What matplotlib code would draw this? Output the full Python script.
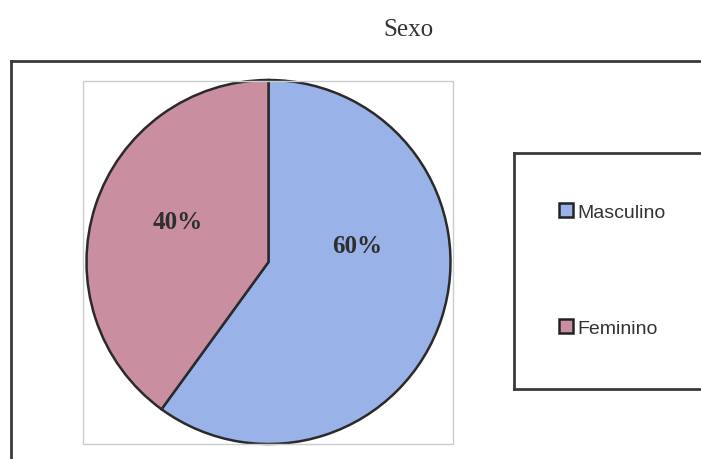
import matplotlib
matplotlib.use("Agg")
from matplotlib import pyplot as plt
from matplotlib.lines import Line2D
from matplotlib.patches import Rectangle

# sex distribution
labels = ["Masculino", "Feminino"]
shares = [60, 40]
colors = ["#99B2E8", "#C98FA0"]
# where the percentage text sits inside the pie (x, y in pie radii)
pct_pos = [(0.49, 0.09), (-0.50, 0.22)]

W, H = 701, 460
fig = plt.figure(figsize=(W / 100, H / 100), dpi=100)


def fx(px):
    return px / W


def fy(py):
    return 1 - py / H


fig.text(fx(408), fy(30), "Sexo", ha="center", va="center",
         family="Liberation Serif", fontsize=18, color="#333333")

# outer chart frame (runs off the right and bottom)
fig.add_artist(Line2D([fx(11), 1.0], [fy(62), fy(62)], color="#3a3a3a", lw=2))
fig.add_artist(Line2D([fx(11), fx(11)], [fy(62), 0.0], color="#3a3a3a", lw=2))

# plot area border
fig.add_artist(Rectangle((fx(83), fy(445)), fx(453) - fx(83), fy(82) - fy(445),
                         transform=fig.transFigure, fill=False,
                         edgecolor="#c8cccc", lw=1))

ax = fig.add_axes([fx(85), fy(445), fx(452) - fx(85), fy(81) - fy(445)])
wedges, texts, autotexts = ax.pie(
    shares, colors=colors, startangle=90, counterclock=False,
    autopct="%1.0f%%", radius=1.0,
    wedgeprops=dict(edgecolor="#2a2a2a", linewidth=1.8),
    textprops=dict(family="Liberation Serif", fontsize=18,
                   fontweight="bold", color="#2e2e2e"))
for t, pos in zip(autotexts, pct_pos):
    t.set_position(pos)
ax.set_xlim(-1.0, 1.0)
ax.set_ylim(-1.0, 1.0)
ax.axis("off")

# legend box (runs off the right)
lc = "#3a3a3a"
fig.add_artist(Line2D([fx(514), 1.0], [fy(154), fy(154)], color=lc, lw=2))
fig.add_artist(Line2D([fx(514), fx(514)], [fy(154), fy(390)], color=lc, lw=2))
fig.add_artist(Line2D([fx(514), 1.0], [fy(390), fy(390)], color=lc, lw=2))

leg = fig.legend(wedges, labels, loc="center left",
                 bbox_to_anchor=(fx(559), fy(271)), frameon=False,
                 borderaxespad=0, borderpad=0,
                 handlelength=0.7, handleheight=0.7, handletextpad=0.25,
                 labelspacing=5.05,
                 prop=dict(family="Liberation Sans", size=14))
for h in leg.legend_handles:
    h.set_edgecolor("#222222")
    h.set_linewidth(1.8)
for t in leg.get_texts():
    t.set_color("#333333")

plt.savefig("out.png", dpi=100)
